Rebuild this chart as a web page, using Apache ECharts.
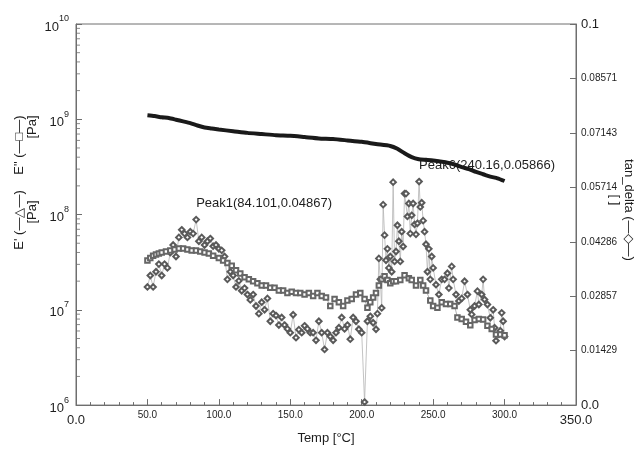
<!DOCTYPE html>
<html>
<head>
<meta charset="utf-8">
<script src="https://cdn.jsdelivr.net/npm/echarts@6/dist/echarts.min.js"></script>
<style>
html, body { margin: 0; padding: 0; background: #fff; }
#chart { width: 635px; height: 450px; }
</style>
</head>
<body>
<div id="chart"></div>
<script>
// Storage modulus E' [Pa] versus temperature [°C]
const storageModulus = [
  [50, 1.1e9], [55, 1.08e9], [60, 1.05e9], [65, 1.03e9], [70, 9.9e8], [75, 9.5e8],
  [80, 9.1e8], [85, 8.6e8], [90, 8.2e8], [95, 8.0e8], [100, 7.8e8], [110, 7.5e8],
  [120, 7.2e8], [130, 7.0e8], [140, 6.8e8], [150, 6.7e8], [160, 6.5e8], [170, 6.3e8],
  [180, 6.2e8], [190, 6.0e8], [200, 5.8e8], [210, 5.5e8], [220, 5.25e8], [225, 4.9e8],
  [230, 4.4e8], [235, 4.0e8], [240, 3.8e8], [245, 3.75e8], [250, 3.7e8], [255, 3.6e8],
  [260, 3.5e8], [265, 3.35e8], [270, 3.15e8], [275, 3.0e8], [280, 2.8e8], [285, 2.65e8],
  [290, 2.5e8], [295, 2.4e8], [300, 2.25e8]
];

// Loss modulus E" [Pa] versus temperature [°C]
const lossModulus = [
  [50, 3.3e7], [52, 3.5e7], [54, 3.7e7], [56, 3.8e7], [58, 3.9e7], [60, 4.0e7],
  [63, 4.1e7], [66, 4.2e7], [69, 4.3e7], [72, 4.4e7], [75, 4.4e7], [78, 4.3e7],
  [81, 4.2e7], [84, 4.2e7], [87, 4.1e7], [90, 4.0e7], [93, 3.9e7], [96, 3.7e7],
  [100, 3.5e7], [103, 3.3e7], [106, 3.1e7], [109, 2.9e7], [112, 2.6e7], [115, 2.4e7],
  [118, 2.2e7], [121, 2.1e7], [124, 2.0e7], [127, 1.9e7], [130, 1.8e7], [133, 1.8e7],
  [136, 1.7e7], [139, 1.7e7], [142, 1.6e7], [145, 1.6e7], [148, 1.5e7], [151, 1.55e7],
  [154, 1.5e7], [157, 1.5e7], [160, 1.45e7], [163, 1.5e7], [166, 1.4e7], [169, 1.5e7],
  [172, 1.4e7], [175, 1.35e7], [178, 1.1e7], [181, 1.3e7], [184, 1.2e7], [187, 1.1e7],
  [190, 1.25e7], [193, 1.3e7], [196, 1.45e7], [199, 1.5e7], [202, 1.3e7], [204, 1.05e7],
  [206, 1.2e7], [208, 1.35e7], [210, 1.5e7], [212, 1.8e7], [214, 2.1e7], [216, 2.25e7],
  [218, 2.05e7], [220, 1.9e7], [222, 2.0e7], [224, 2.0e7], [227, 2.05e7], [230, 2.3e7],
  [233, 2.15e7], [235, 2.05e7], [238, 1.8e7], [241, 2.05e7], [243, 1.8e7], [245, 1.6e7],
  [248, 1.25e7], [250, 1.1e7], [253, 1.05e7], [256, 1.2e7], [259, 1.15e7], [262, 1.15e7],
  [265, 1.1e7], [267, 8.3e6], [270, 8.0e6], [273, 7.5e6], [276, 6.9e6], [279, 7.8e6],
  [282, 8.0e6], [285, 7.9e6], [288, 6.8e6], [291, 6.3e6], [294, 5.5e6], [297, 5.5e6],
  [300, 5.4e6]
];

// Loss factor tan_delta [-] versus temperature [°C]
const tanDelta = [
  [50, 0.031], [52, 0.034], [54, 0.031], [56, 0.035], [58, 0.037], [60, 0.034],
  [62, 0.037], [64, 0.036], [66, 0.040], [68, 0.042], [70, 0.039], [72, 0.044],
  [74, 0.046], [76, 0.045], [78, 0.044], [80, 0.0455], [82, 0.045], [84.101, 0.04867],
  [86, 0.043], [88, 0.044], [90, 0.042], [92, 0.043], [94, 0.0437], [96, 0.0417],
  [98, 0.042], [100, 0.041], [102, 0.0406], [104, 0.039], [106, 0.033], [108, 0.035],
  [110, 0.034], [112, 0.031], [114, 0.0326], [116, 0.030], [118, 0.0307], [120, 0.029],
  [122, 0.0276], [124, 0.029], [126, 0.026], [128, 0.024], [130, 0.027], [132, 0.025],
  [134, 0.028], [136, 0.022], [138, 0.024], [140, 0.0235], [142, 0.021], [144, 0.023],
  [146, 0.021], [148, 0.020], [150, 0.019], [152, 0.0237], [154, 0.0177], [156, 0.0198],
  [158, 0.019], [160, 0.0208], [162, 0.020], [164, 0.019], [166, 0.019], [168, 0.017],
  [170, 0.022], [172, 0.019], [174, 0.0146], [176, 0.019], [178, 0.018], [180, 0.017],
  [182, 0.019], [184, 0.0203], [186, 0.023], [188, 0.020], [190, 0.021], [192, 0.0173],
  [194, 0.023], [196, 0.022], [198, 0.0199], [200, 0.019], [202, 0.0008], [204, 0.022],
  [206, 0.0233], [208, 0.0216], [210, 0.0199], [211, 0.024], [212, 0.0385], [213, 0.033],
  [214, 0.0255], [215, 0.0526], [216, 0.0446], [217, 0.038], [218, 0.041], [219, 0.036],
  [220, 0.039], [221, 0.035], [222, 0.0585], [223, 0.0377], [224, 0.0403], [225, 0.0472],
  [226, 0.043], [227, 0.0377], [228, 0.0455], [229, 0.0416], [230, 0.0555], [231, 0.0555],
  [232, 0.0495], [233, 0.0529], [234, 0.045], [235, 0.0498], [236, 0.0529], [237, 0.0474],
  [238, 0.0448], [239, 0.0477], [240.16, 0.05866], [241, 0.052], [242, 0.0531], [243, 0.0484],
  [244, 0.0455], [245, 0.0422], [246, 0.035], [247, 0.041], [248, 0.033], [249, 0.039],
  [250, 0.036], [252, 0.0316], [254, 0.029], [256, 0.033], [258, 0.033], [260, 0.0346],
  [261, 0.0307], [263, 0.0364], [264, 0.033], [266, 0.029], [268, 0.0273], [270, 0.028],
  [272, 0.0325], [274, 0.029], [276, 0.025], [277, 0.0238], [279, 0.026], [281, 0.0299],
  [282, 0.0264], [284, 0.029], [285, 0.033], [286, 0.0277], [288, 0.0264], [290, 0.0229],
  [292, 0.025], [293, 0.0203], [294, 0.0169], [296, 0.0186], [297, 0.0195], [298, 0.0242],
  [299, 0.022], [300, 0.018]
];

// Annotated tan_delta maxima
const peaks = [
  { name: 'Peak1', temp: 84.101, value: 0.04867 },
  { name: 'Peak6', temp: 240.16, value: 0.05866 }
];

// Log-axis decades and the minor-tick multipliers inside each decade
const decades = [1e6, 1e7, 1e8, 1e9];
const minorMultipliers = [2, 3, 4, 5, 6, 7, 8, 9];

const FONT = '"Liberation Sans", Arial, sans-serif';
const AXIS_COLOR = '#6e6e6e';
const TEXT_COLOR = '#1e1e1e';

// Minor tick positions on the log axis, placed at the left edge of the plot
const minorLogTicks = [];
decades.forEach(d => minorMultipliers.forEach(m => minorLogTicks.push([0, d * m])));

const tanSeriesData = tanDelta.map(([t, v]) => {
  const peak = peaks.find(p => p.temp === t && p.value === v);
  if (!peak) return [t, v];
  return {
    value: [t, v],
    label: {
      show: true,
      position: 'top',
      align: 'left',
      distance: 6,
      formatter: peak.name + '(' + peak.temp + ',' + peak.value + ')',
      fontFamily: FONT,
      fontSize: 13,
      color: TEXT_COLOR
    }
  };
});

const chart = echarts.init(document.getElementById('chart'), null, { renderer: 'canvas' });

const option = {
  animation: false,
  backgroundColor: '#fff',
  grid: {
    left: 76, right: 59, top: 24, bottom: 42,
    show: true, borderColor: AXIS_COLOR, borderWidth: 1, backgroundColor: 'transparent'
  },
  xAxis: {
    type: 'value', min: 0, max: 350, interval: 50,
    axisLine: { lineStyle: { color: AXIS_COLOR } },
    axisTick: { inside: true, length: 6, lineStyle: { color: AXIS_COLOR } },
    minorTick: { show: true, splitNumber: 5, length: 3, lineStyle: { color: AXIS_COLOR } },
    splitLine: { show: false },
    axisLabel: {
      margin: 4,
      formatter: v => (v === 0 || v === 350) ? '{big|' + v.toFixed(1) + '}' : '{small|' + v.toFixed(1) + '}',
      rich: {
        big: { fontFamily: FONT, fontSize: 13, color: TEXT_COLOR, padding: [5, 0, 0, 0] },
        small: { fontFamily: FONT, fontSize: 10, color: TEXT_COLOR, padding: [1, 0, 0, 0] }
      }
    },
    name: 'Temp [°C]', nameLocation: 'middle', nameGap: 26,
    nameTextStyle: { fontFamily: FONT, fontSize: 13, color: TEXT_COLOR }
  },
  yAxis: [
    {
      type: 'log', logBase: 10, min: 1e6, max: 1e10,
      axisLine: { show: true, lineStyle: { color: AXIS_COLOR } },
      axisTick: { inside: true, length: 6, lineStyle: { color: AXIS_COLOR } },
      splitLine: { show: false },
      axisLabel: {
        margin: 7,
        formatter: v => '{b|10}{s|' + Math.round(Math.log10(v)) + '}',
        rich: {
          b: { fontFamily: FONT, fontSize: 13, color: TEXT_COLOR, verticalAlign: 'bottom', padding: [6, 0, 0, 0] },
          s: { fontFamily: FONT, fontSize: 9, color: TEXT_COLOR, verticalAlign: 'top' }
        }
      }
    },
    {
      type: 'value', position: 'right', min: 0, max: 0.1, interval: 0.1 / 7,
      axisLine: { show: true, lineStyle: { color: AXIS_COLOR } },
      axisTick: { inside: true, length: 6, lineStyle: { color: AXIS_COLOR } },
      splitLine: { show: false },
      axisLabel: {
        margin: 5,
        formatter: v => {
          if (Math.abs(v) < 1e-9) return '{big|0.0}';
          if (Math.abs(v - 0.1) < 1e-9) return '{big|0.1}';
          return '{small|' + v.toFixed(5) + '}';
        },
        rich: {
          big: { fontFamily: FONT, fontSize: 13, color: TEXT_COLOR },
          small: { fontFamily: FONT, fontSize: 10, color: TEXT_COLOR }
        }
      }
    }
  ],
  series: [
    {
      name: 'minor log ticks', type: 'scatter', xAxisIndex: 0, yAxisIndex: 0,
      silent: true, clip: false, data: minorLogTicks, z: 6,
      symbol: 'rect', symbolSize: [4, 1], symbolOffset: [2, 0],
      itemStyle: { color: AXIS_COLOR }
    },
    {
      name: 'tan_delta', type: 'line', yAxisIndex: 1, data: tanSeriesData,
      symbol: 'emptyDiamond', symbolSize: 5.5, showAllSymbol: true,
      itemStyle: { color: '#5a5a5a', borderWidth: 1 },
      lineStyle: { color: '#b4b4b4', width: 0.8 },
      z: 3
    },
    {
      name: 'E"', type: 'line', yAxisIndex: 0, data: lossModulus,
      symbol: 'emptyRect', symbolSize: 4.5, showAllSymbol: true,
      itemStyle: { color: '#666', borderWidth: 1 },
      lineStyle: { color: '#9a9a9a', width: 0.8 },
      z: 4
    },
    {
      name: "E'", type: 'line', yAxisIndex: 0, data: storageModulus,
      showSymbol: false, smooth: 0.2,
      lineStyle: { color: '#1a1a1a', width: 4 },
      z: 5
    }
  ],
  graphic: [
    { type: 'text', x: 19, y: 145, rotation: Math.PI / 2,
      style: { text: 'E" (—□—)', fontFamily: FONT, fontSize: 13, fill: TEXT_COLOR, textAlign: 'center', textVerticalAlign: 'middle' } },
    { type: 'text', x: 32, y: 127, rotation: Math.PI / 2,
      style: { text: '[Pa]', fontFamily: FONT, fontSize: 13, fill: TEXT_COLOR, textAlign: 'center', textVerticalAlign: 'middle' } },
    { type: 'text', x: 19, y: 220, rotation: Math.PI / 2,
      style: { text: "E' (—△—)", fontFamily: FONT, fontSize: 13, fill: TEXT_COLOR, textAlign: 'center', textVerticalAlign: 'middle' } },
    { type: 'text', x: 32, y: 212, rotation: Math.PI / 2,
      style: { text: '[Pa]', fontFamily: FONT, fontSize: 13, fill: TEXT_COLOR, textAlign: 'center', textVerticalAlign: 'middle' } },
    { type: 'text', x: 629, y: 210, rotation: -Math.PI / 2,
      style: { text: 'tan_delta (—◇—)', fontFamily: FONT, fontSize: 13, fill: TEXT_COLOR, textAlign: 'center', textVerticalAlign: 'middle' } },
    { type: 'text', x: 615, y: 200, rotation: -Math.PI / 2,
      style: { text: '[ ]', fontFamily: FONT, fontSize: 13, fill: TEXT_COLOR, textAlign: 'center', textVerticalAlign: 'middle' } }
  ]
};

chart.setOption(option);
</script>
</body>
</html>
